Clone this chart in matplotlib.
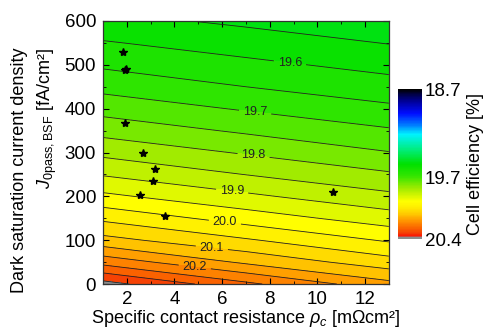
import numpy as np
import matplotlib
matplotlib.use("Agg")
import matplotlib.pyplot as plt
from matplotlib.colors import LinearSegmentedColormap, Normalize
from matplotlib.cm import ScalarMappable

plt.rcParams["font.family"] = ["Liberation Sans", "DejaVu Sans"]
plt.rcParams["mathtext.fontset"] = "custom"
plt.rcParams["mathtext.rm"] = "Liberation Sans"
plt.rcParams["mathtext.it"] = "Liberation Sans:italic"

######## DATA ########

rho_grid = [1, 7, 13]  # specific contact resistance [mOhm cm2]
j0_grid = [0, 50, 100, 150, 200, 250, 300, 350, 400, 450, 500, 550, 600]  # fA/cm2

eff_rho1 = [20.370, 20.232, 20.117, 20.039, 19.961, 19.896, 19.837,
            19.783, 19.731, 19.685, 19.642, 19.604, 19.566]
eff_rho7 = [20.261, 20.141, 20.056, 19.977, 19.910, 19.849, 19.795,
            19.742, 19.695, 19.650, 19.612, 19.576, 19.540]
eff_rho13 = [20.165, 20.071, 19.994, 19.924, 19.862, 19.807, 19.752,
             19.706, 19.660, 19.620, 19.584, 19.548, 19.513]

label_levels = [19.6, 19.7, 19.8, 19.9, 20.0, 20.1, 20.2]
label_rho = [8.82, 7.36, 7.32, 6.40, 6.10, 5.56, 4.85]
label_j0 = [491, 381, 293, 202, 133, 78, 37]

star_rho = [1.85, 1.92, 1.97, 1.92, 2.69, 3.18, 3.10, 2.57, 3.59, 10.64]
star_j0 = [530, 488, 491, 367, 298, 262, 236, 203, 156, 209]

cbar_ticks = [18.7, 19.7, 20.4]

######## COLORMAP ########

cmap = LinearSegmentedColormap.from_list("eff", [
    (0.00, (0.0, 0.0, 0.0)),
    (0.03, (0.0, 0.0, 0.25)),
    (0.08, (0.0, 0.0, 0.6)),
    (0.16, (0.0, 0.05, 1.0)),
    (0.24, (0.0, 0.5, 1.0)),
    (0.30, (0.0, 0.95, 1.0)),
    (0.40, (0.0, 0.93, 0.5)),
    (0.50, (0.0, 0.88, 0.0)),
    (0.58, (0.2, 0.9, 0.0)),
    (0.66, (0.62, 0.92, 0.0)),
    (0.75, (1.0, 1.0, 0.0)),
    (0.79, (1.0, 0.93, 0.0)),
    (0.835, (1.0, 0.78, 0.0)),
    (0.88, (1.0, 0.58, 0.0)),
    (0.93, (0.98, 0.38, 0.0)),
    (0.965, (0.96, 0.22, 0.02)),
    (0.983, (1.0, 0.05, 0.0)),
    (0.986, (0.55, 0.55, 0.55)),
    (1.00, (0.55, 0.55, 0.55)),
])
norm = Normalize(vmin=18.7, vmax=20.4)

######## PLOT ########

fig = plt.figure(figsize=(4.86, 3.28), dpi=100)
ax = fig.add_axes([0.212, 0.134, 0.588, 0.802])

Z = np.array([eff_rho1, eff_rho7, eff_rho13]).T
levels = np.round(np.arange(18.70, 20.401, 0.05), 2)
plain_levels = [lv for lv in levels if not np.any(np.isclose(lv, label_levels))]

ax.contourf(rho_grid, j0_grid, Z, levels=levels, cmap=cmap, norm=norm)
ax.contour(rho_grid, j0_grid, Z, levels=plain_levels, colors="#222222", linewidths=0.6)
cs_lab = ax.contour(rho_grid, j0_grid, Z, levels=label_levels, colors="#222222", linewidths=0.6)
labels = ax.clabel(cs_lab, manual=list(zip(label_rho, label_j0)),
                   fmt="%.1f", fontsize=9, inline=True, inline_spacing=4, colors="#222222")
for t in labels:
    t.set_rotation(0)

ax.plot(star_rho, star_j0, ls="none", marker="*", color="k", ms=6)

ax.set_xlim(1, 13)
ax.set_ylim(0, 600)
ax.set_xticks(range(2, 13, 2))
ax.set_xticks(range(1, 14), minor=True)
ax.set_yticks(range(0, 601, 100))
ax.set_yticks(range(0, 601, 50), minor=True)
ax.tick_params(which="both", direction="in", top=True, right=True, labelsize=13.5)
ax.tick_params(which="major", length=4, pad=5)
ax.tick_params(which="minor", length=2.5)
for s in ax.spines.values():
    s.set_linewidth(0.9)
    s.set_color("#333333")

ax.set_xlabel(r"Specific contact resistance $\rho_c$ [mΩcm²]", fontsize=13, labelpad=0)
fig.text(0.072, 0.48, "Dark saturation current density\n$J_{0\\mathrm{pass,BSF}}$ [fA/cm²]",
         rotation=90, ha="center", va="center", multialignment="right",
         linespacing=1.45, fontsize=13)

cax = fig.add_axes([0.819, 0.271, 0.049, 0.457])
cb = fig.colorbar(ScalarMappable(norm=norm, cmap=cmap), cax=cax)
cb.set_ticks(cbar_ticks)
cb.set_ticklabels(["18.7", "19.7", "20.4"])
cax.invert_yaxis()
cax.tick_params(length=0, labelsize=13.5, pad=2)
cb.outline.set_visible(False)
cb.set_label("Cell efficiency [%]", fontsize=13, labelpad=4)

fig.savefig("out.png", dpi=100)
